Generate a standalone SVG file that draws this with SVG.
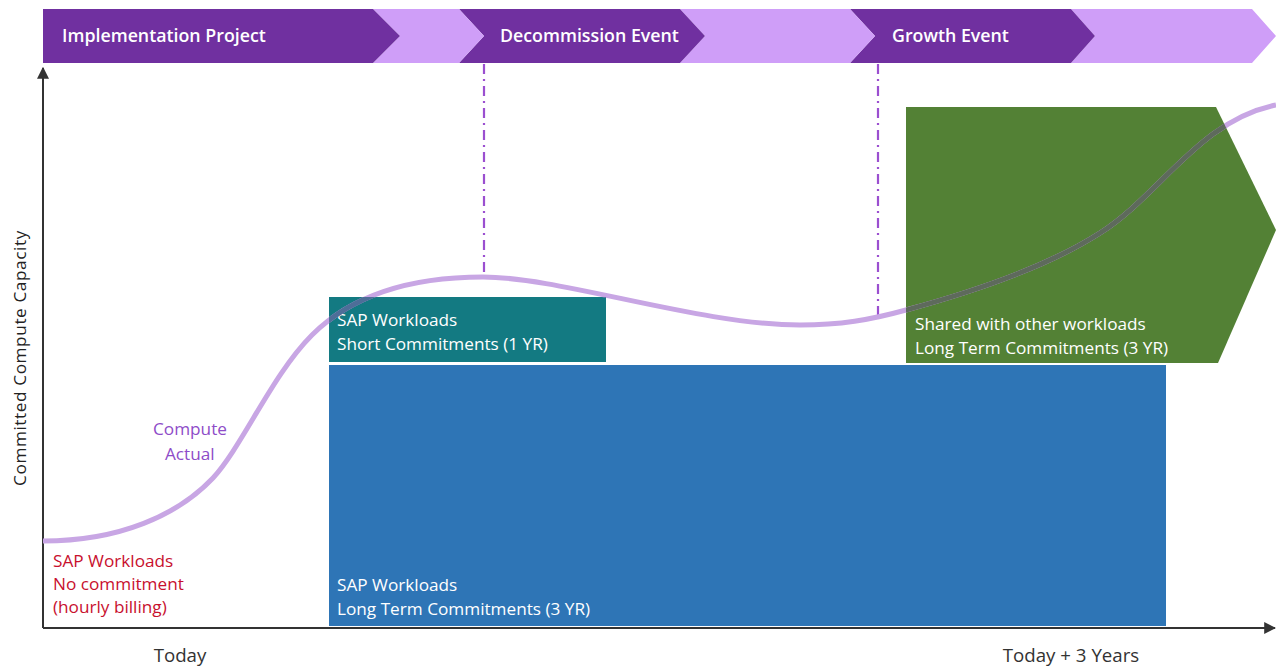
<svg xmlns="http://www.w3.org/2000/svg" width="1276" height="668" viewBox="0 0 1276 668">
<style>
.t{font-family:"Open Sans",Lato,"Liberation Sans",sans-serif;font-size:17.2px}
.w{fill:#ffffff}
.hd{fill:#ffffff;font-weight:600;font-size:17.8px}
.lbl{fill:#333333;font-size:18.7px}
.dark{fill:#7030A0}
.light{fill:#CF9EF8}
.vd{stroke:#9B4FD0;stroke-width:2.2;stroke-dasharray:10 5 2 5;fill:none}
.ax{stroke:#333333;stroke-width:2;fill:none}
</style>
<defs>
<marker id="ah" viewBox="0 0 10 10" refX="9" refY="5" markerWidth="6" markerHeight="6" orient="auto-start-reverse">
<path d="M0,0 L10,5 L0,10 z" fill="#333333"/>
</marker>
<path id="curve" d="M43,541 C120,541 178,515 213,478 C243,445 272,375 312,335 C352,295 410,277 483,277 C560,277 700,325 800,325 C840,325 870,320 906,310 C980,290 1050,265 1100,233 C1160,195 1200,120 1276,105"/>
<clipPath id="gclip"><polygon points="906,107 1216,107 1276,230 1218,363 906,363"/></clipPath>
<clipPath id="tclip"><rect x="329" y="297" width="277" height="65"/></clipPath>
</defs>

<g id="timeline">
<polygon class="light" points="1071,9 1252,9 1276,36 1252,63 1071,63 1095,36"/>
<polygon class="dark" points="850,9 1071,9 1095,36 1071,63 850,63 875,36"/>
<polygon class="light" points="680,9 850,9 875,36 850,63 680,63 705,36"/>
<polygon class="dark" points="459,9 680,9 705,36 680,63 459,63 484,36"/>
<polygon class="light" points="373,9 459,9 484,36 459,63 373,63 400,36"/>
<polygon class="dark" points="43,9 373,9 400,36 373,63 43,63"/>
<text class="t hd" x="62" y="42">Implementation Project</text>
<text class="t hd" x="500" y="42">Decommission Event</text>
<text class="t hd" x="892" y="42">Growth Event</text>
</g>

<g id="markers">
<line class="vd" x1="484" y1="64" x2="484" y2="276"/>
<line class="vd" x1="878" y1="64" x2="878" y2="320"/>
</g>

<g id="axes">
<line class="ax" x1="43" y1="628" x2="43" y2="68" marker-end="url(#ah)"/>
<line class="ax" x1="43" y1="628" x2="1275" y2="628" marker-end="url(#ah)"/>
<text class="t" x="26" y="358" text-anchor="middle" fill="#222222" font-size="21.5" letter-spacing="0.6" transform="rotate(-90 26 358)">Committed Compute Capacity</text>
<text class="t lbl" x="180" y="662" text-anchor="middle">Today</text>
<text class="t lbl" x="1071" y="662" text-anchor="middle">Today + 3 Years</text>
</g>

<g id="long-term">
<rect x="329" y="365" width="837" height="261" fill="#2E75B6"/>
<text class="t w" x="337" y="591">SAP Workloads</text>
<text class="t w" x="337" y="615">Long Term Commitments (3 YR)</text>
</g>

<g id="short-term">
<rect x="329" y="297" width="277" height="65" fill="#137A82"/>
<text class="t w" x="337" y="326">SAP Workloads</text>
<text class="t w" x="337" y="350">Short Commitments (1 YR)</text>
</g>

<g id="shared">
<polygon points="906,107 1216,107 1276,230 1218,363 906,363" fill="#538135"/>
<text class="t w" x="915" y="330">Shared with other workloads</text>
<text class="t w" x="915" y="354">Long Term Commitments (3 YR)</text>
</g>

<g id="compute-actual">
<use href="#curve" fill="none" stroke="#C8A6E4" stroke-width="5"/>
<use href="#curve" fill="none" stroke="#5E6A5C" stroke-width="5" clip-path="url(#gclip)"/>
<use href="#curve" fill="none" stroke="#4E6E98" stroke-width="5" clip-path="url(#tclip)"/>
<text class="t" x="153" y="435" fill="#8E4CC8">Compute</text>
<text class="t" x="165" y="460" fill="#8E4CC8">Actual</text>
</g>

<g id="no-commitment">
<text class="t" x="53" y="567" fill="#C8102E">SAP Workloads</text>
<text class="t" x="53" y="590" fill="#C8102E">No commitment</text>
<text class="t" x="53" y="613" fill="#C8102E">(hourly billing)</text>
</g>
</svg>
